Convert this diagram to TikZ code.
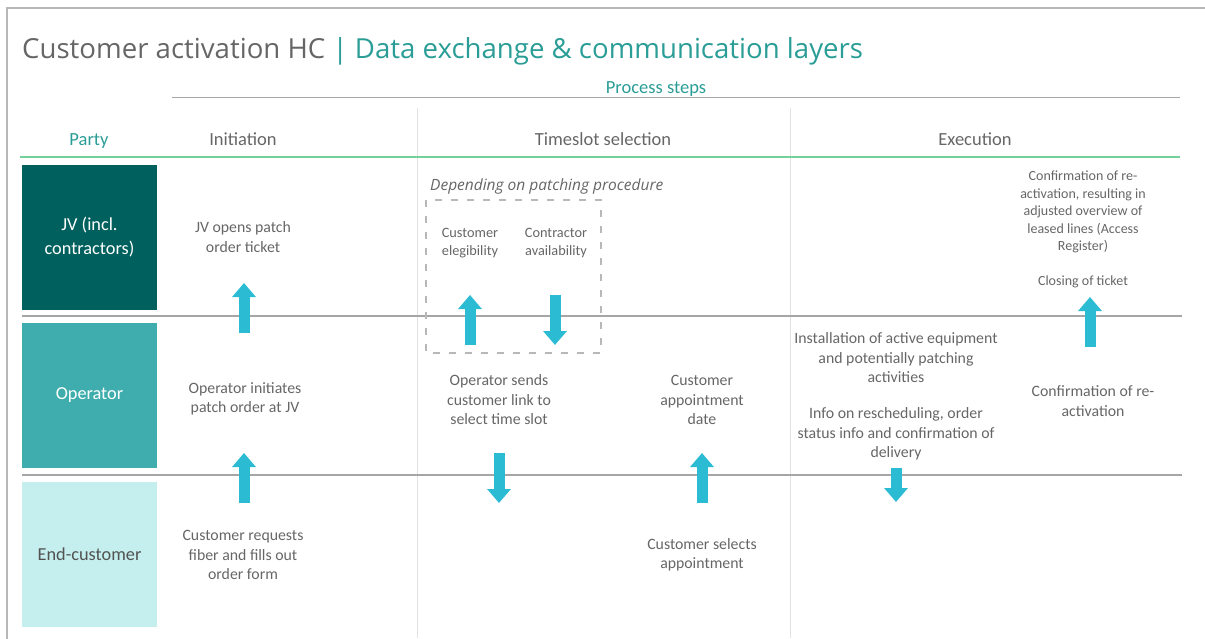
\documentclass[tikz,border=0pt]{standalone}
\usepackage{fontspec}
\setmainfont{Carlito}
\newfontfamily\titlefont{Open Sans}
\usetikzlibrary{arrows.meta}
\definecolor{darkteal}{HTML}{00605E}
\definecolor{opteal}{HTML}{3FADAD}
\definecolor{lightteal}{HTML}{C5EFEE}
\definecolor{titleteal}{HTML}{2A9D96}
\definecolor{arrowcyan}{HTML}{2BBCD4}
\definecolor{greenline}{HTML}{74D19C}
\definecolor{sepgray}{HTML}{A6A6A6}
\definecolor{vgray}{HTML}{E2E2E2}
\definecolor{txtgray}{HTML}{666666}
\definecolor{framegray}{HTML}{B8B8B8}
\tikzset{
  body/.style={align=center, text=txtgray, font=\fontsize{15.8}{19.5}\selectfont, inner sep=0pt},
  small/.style={align=center, text=txtgray, font=\fontsize{14}{17.5}\selectfont, inner sep=0pt},
  header/.style={anchor=base, text=txtgray, font=\fontsize{18.5}{22}\selectfont, inner sep=0pt},
  party/.style={minimum width=135pt, minimum height=145pt, inner sep=0pt, align=center, font=\fontsize{18.3}{24}\selectfont},
  blockarrow/.style={draw=arrowcyan, line width=11pt, -{Triangle[width=23pt,length=14pt]}},
  sep/.style={draw=sepgray, line width=2.5pt},
  vsep/.style={draw=vgray, line width=1pt}
}
\begin{document}
\begin{tikzpicture}[x=1pt,y=-1pt]
\useasboundingbox (0,0) rectangle (1205,638);
% frame
\draw[framegray, line width=1.5pt] (7,640) -- (7,8) -- (1207,8);
% title
\node[anchor=base west, inner sep=0pt, font=\titlefont\fontsize{27.6}{32}\selectfont] (title) at (22,58)
  {\textcolor{txtgray}{Customer activation HC} \textcolor{titleteal}{| Data exchange \& communication layers}};
% process steps
\node[anchor=base, text=titleteal, font=\fontsize{18.5}{22}\selectfont, inner sep=0pt] (proc) at (656,93) {Process steps};
\draw[draw=sepgray, line width=1pt] (172,97) -- (1180,97);
% vertical separators
\draw[vsep] (417,108) -- (417,638);
\draw[vsep] (790,108) -- (790,638);
% headers
\node[header, text=titleteal] (hparty) at (89,145) {Party};
\node[header] (hinit) at (243,145) {Initiation};
\node[header] (hts) at (603,145) {Timeslot selection};
\node[header] (hexe) at (975,145) {Execution};
\draw[greenline, line width=2pt] (20,157) -- (1180,157);
% party boxes
\node[party, fill=darkteal, text=white] (jv) at (89.5,237.5) {JV (incl.\\contractors)};
\node[party, fill=opteal, text=white] (op) at (89.5,395.5) {Operator};
\node[party, fill=lightteal, text=txtgray!80!black] (ec) at (89.5,554.5) {End-customer};
% row separators
\draw[sep] (22,316) -- (1182,316);
\draw[sep] (22,475) -- (1182,475);
% dashed box
\node[anchor=base west, inner sep=0pt, text=txtgray, font=\titlefont\itshape\fontsize{15.5}{18}\selectfont] (dep) at (430,190) {Depending on patching procedure};
\draw[draw=sepgray!80, line width=1.2pt, dash pattern=on 7pt off 9pt] (426,200) rectangle (601,353);
% texts
\node[body] (t1) at (243,237) {JV opens patch\\order ticket};
\node[body] (t2) at (245,399) {Operator initiates\\patch order at JV};
\node[body] (t3) at (243,555) {Customer requests\\fiber and fills out\\order form};
\node[body, font=\fontsize{14.3}{18}\selectfont] (t4) at (470,243) {Customer\\elegibility};
\node[body, font=\fontsize{14.3}{18}\selectfont] (t5) at (556,243) {Contractor\\availability};
\node[body] (t6) at (499,400) {Operator sends\\customer link to\\select time slot};
\node[body] (t7) at (702,400) {Customer\\appointment\\date};
\node[body] (t8) at (702,555) {Customer selects\\appointment};
\node[body] (t9) at (896,358) {Installation of active equipment\\and potentially patching\\activities};
\node[body] (t10) at (896,434) {Info on rescheduling, order\\status info and confirmation of\\delivery};
\node[small] (t11) at (1083,212) {Confirmation of re-\\activation, resulting in\\adjusted overview of\\leased lines (Access\\Register)};
\node[small] (t12) at (1083,282) {Closing of ticket};
\node[body] (t13) at (1093,401) {Confirmation of re-\\activation};
% arrow coordinates
\coordinate (a1s) at (244,333); \coordinate (a1e) at (244,283);
\coordinate (a2s) at (244,503); \coordinate (a2e) at (244,453);
\coordinate (a3s) at (470,345); \coordinate (a3e) at (470,295);
\coordinate (a4s) at (555,295); \coordinate (a4e) at (555,345);
\coordinate (a5s) at (499,453); \coordinate (a5e) at (499,503);
\coordinate (a6s) at (702,503); \coordinate (a6e) at (702,453);
\coordinate (a7s) at (896,468); \coordinate (a7e) at (896,502);
\coordinate (a8s) at (1090,347); \coordinate (a8e) at (1090,297);
\foreach \i in {1,...,8} {\draw[blockarrow] (a\i s) -- (a\i e);}
\end{tikzpicture}
\end{document}
